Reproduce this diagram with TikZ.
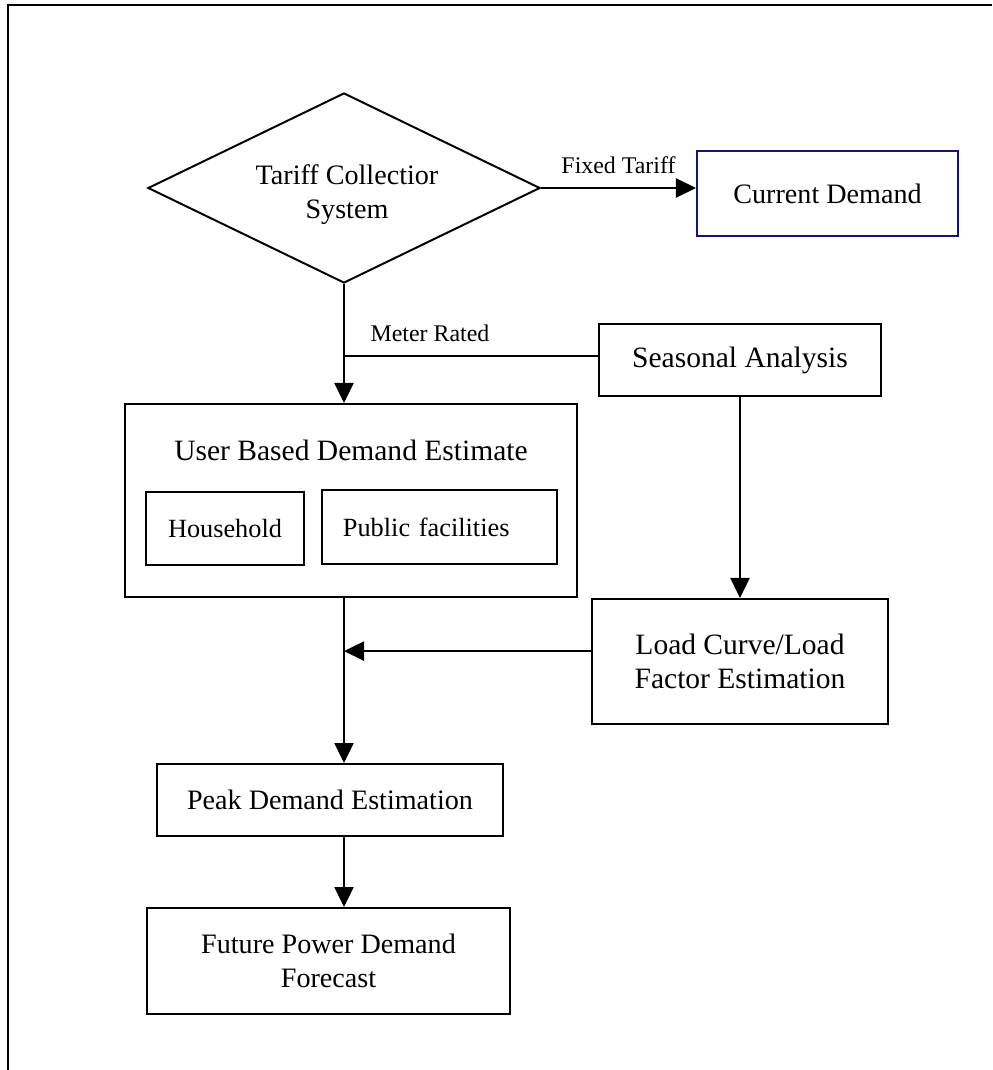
\documentclass[tikz,border=0pt]{standalone}
\usepackage{fontspec}
\setmainfont{Liberation Serif}
\usetikzlibrary{shapes.geometric,arrows.meta}

\definecolor{boxblue}{RGB}{20,20,120}

\tikzset{
  box/.style={draw, line width=1.4pt, inner sep=0pt, align=center,
    font=\fontsize{20}{24}\selectfont},
  bigtxt/.style={font=\fontsize{21}{24.5}\selectfont},
  subbox/.style={box, font=\fontsize{18.7}{22}\selectfont},
  lbl/.style={font=\fontsize{17}{20}\selectfont, inner sep=1pt},
  flow/.style={line width=1.1pt, -{Triangle[length=0.5cm,width=0.48cm]}},
}

\begin{document}
\begin{tikzpicture}[x=0.025cm,y=-0.025cm]
\useasboundingbox (0,0) rectangle (992,1070);
\draw[line width=1.8pt] (992,5) -- (8,5) -- (8,1070);

\node[box, diamond, aspect=2.06, minimum width=9.8cm, minimum height=4.75cm] (tcs) at (344,188) {};
\node[align=center, font=\fontsize{20}{24}\selectfont] (tcst) at (347,195) {Tariff Collectior\\System};
\node[box, draw=boxblue, minimum width=6.525cm, minimum height=2.125cm] (cur) at (827.5,193.5) {Current Demand};
\node[box, bigtxt, minimum width=7.025cm, minimum height=1.8cm] (seas) at (740,360) {Seasonal Analysis};

\node[box, minimum width=11.3cm, minimum height=4.825cm] (ubde) at (351,500.5) {};
\node[bigtxt] (ubdet) at (351,450) {User Based Demand Estimate};
\node[subbox, minimum width=3.95cm, minimum height=1.825cm] (hh) at (225,528.5) {Household};
\node[subbox, align=left, text width=4.825cm, inner xsep=0.525cm, minimum height=1.85cm] (pub) at (439.5,527) {Public facilities};

\node[box, bigtxt, minimum width=7.375cm, minimum height=3.125cm] (load) at (740,661.5) {Load Curve/Load\\Factor Estimation};
\node[box, minimum width=8.65cm, minimum height=1.8cm] (peak) at (330,800) {Peak Demand Estimation};
\node[box, minimum width=9.075cm, minimum height=2.65cm] (fut) at (328.5,961) {Future Power Demand\\Forecast};

% connectors
\coordinate (sw) at ([yshift=0.1cm]seas.west);
\coordinate (lw) at ([yshift=0.26cm]load.west);
\draw[flow] (tcs.east) -- node[lbl, above=0.3cm] (fx) {Fixed Tariff} (tcs.east -| cur.west);
\draw[flow] (tcs.south) -- (tcs.south |- ubde.north);
\draw[line width=1.1pt] (sw) -- (tcs.south |- sw);
\node[lbl] (mr) at (430,333) {Meter Rated};
\draw[flow] (seas.south) -- (seas.south |- load.north);
\draw[flow] (lw) -- (tcs.south |- lw);
\draw[flow] (tcs.south |- ubde.south) -- (tcs.south |- peak.north);
\draw[flow] (tcs.south |- peak.south) -- (tcs.south |- fut.north);
\end{tikzpicture}
\end{document}
